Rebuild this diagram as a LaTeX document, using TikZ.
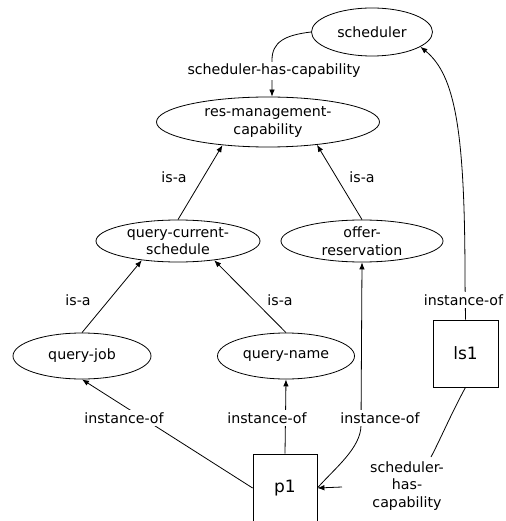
\documentclass[tikz,border=0pt]{standalone}
\usepackage{fontspec}
\setmainfont{DejaVu Sans}
\usetikzlibrary{shapes.geometric,arrows.meta}
\begin{document}
\begin{tikzpicture}[x=1pt,y=-1pt,
  every node/.style={font=\fontsize{14.2}{17.5}\selectfont},
  cls/.style={draw, ellipse, inner sep=0pt, align=center, line width=0.8pt},
  inst/.style={draw, rectangle, inner sep=0pt, line width=0.8pt,
    font=\fontsize{17}{20}\selectfont},
  lbl/.style={fill=white, inner sep=2.5pt, align=center},
  rel/.style={line width=0.8pt, -{Latex[length=7pt,width=5.5pt]}},
  link/.style={line width=0.8pt}]
\useasboundingbox (0,0) rectangle (505,521);
\clip (0,0) rectangle (505,521);

% classes
\node[cls, minimum width=121pt, minimum height=48pt] (sched) at (372,32) {scheduler};
\node[cls, minimum width=223pt, minimum height=50pt] (res) at (268,122) {res-management-\\capability};
\node[cls, minimum width=164pt, minimum height=42pt] (qcs) at (178,241) {query-current-\\schedule};
\node[cls, minimum width=162pt, minimum height=42pt] (offer) at (362,241) {offer-\\reservation};
\node[cls, minimum width=138pt, minimum height=46pt] (qjob) at (82,356) {query-job};
\node[cls, minimum width=137pt, minimum height=46pt] (qname) at (286,356) {query-name};

% instances
\node[inst, minimum width=65pt, minimum height=67pt] (ls1) at (465.5,353.5) {ls1};
\node[inst, minimum width=64pt, minimum height=68pt] (p1) at (285,488) {p1};

% free ends of the ls1 -> p1 relation around its label
\coordinate (cap-out) at (431,457);
\coordinate (cap-in) at (342,487);

% relations
\draw[rel] (sched.west) .. controls (285,35) and (272,42) .. (272,60) -- ([xshift=4pt]res.north);
\draw[rel] (qcs.north) -- (res.207);
\draw[rel] (offer.north) -- (res.335);
\draw[rel] (qjob.north) -- (qcs.208);
\draw[rel] (qname.north) -- (qcs.332);
\draw[rel] (ls1.north) -- (465,280) .. controls (465,130) and (455,75) .. (sched.343);
\draw[rel] (p1.west) -- (qjob.south);
\draw[rel] (p1.north) -- (qname.south);
\draw[rel] (p1.east) .. controls (335,468) and (361,448) .. (361,425) -- (offer.south);
\draw[link] (ls1.south) .. controls (452,412) and (440,440) .. (cap-out);
\draw[rel] (cap-in) -- (p1.east);

% relation labels
\node[lbl] (l-sched) at (274,71) {scheduler-has-capability};
\node[lbl] (l-isa1) at (174,177) {is-a};
\node[lbl] (l-isa2) at (362,177) {is-a};
\node[lbl] (l-isa3) at (78,300) {is-a};
\node[lbl] (l-isa4) at (280,300) {is-a};
\node[lbl] (l-ls1) at (463.5,300) {instance-of};
\node[lbl] (l-qj) at (124,418) {instance-of};
\node[lbl] (l-qn) at (267,418) {instance-of};
\node[lbl] (l-or) at (380,418) {instance-of};
\node[lbl] (l-cap) at (407,486) {scheduler-\\has-\\capability};
\end{tikzpicture}
\end{document}
